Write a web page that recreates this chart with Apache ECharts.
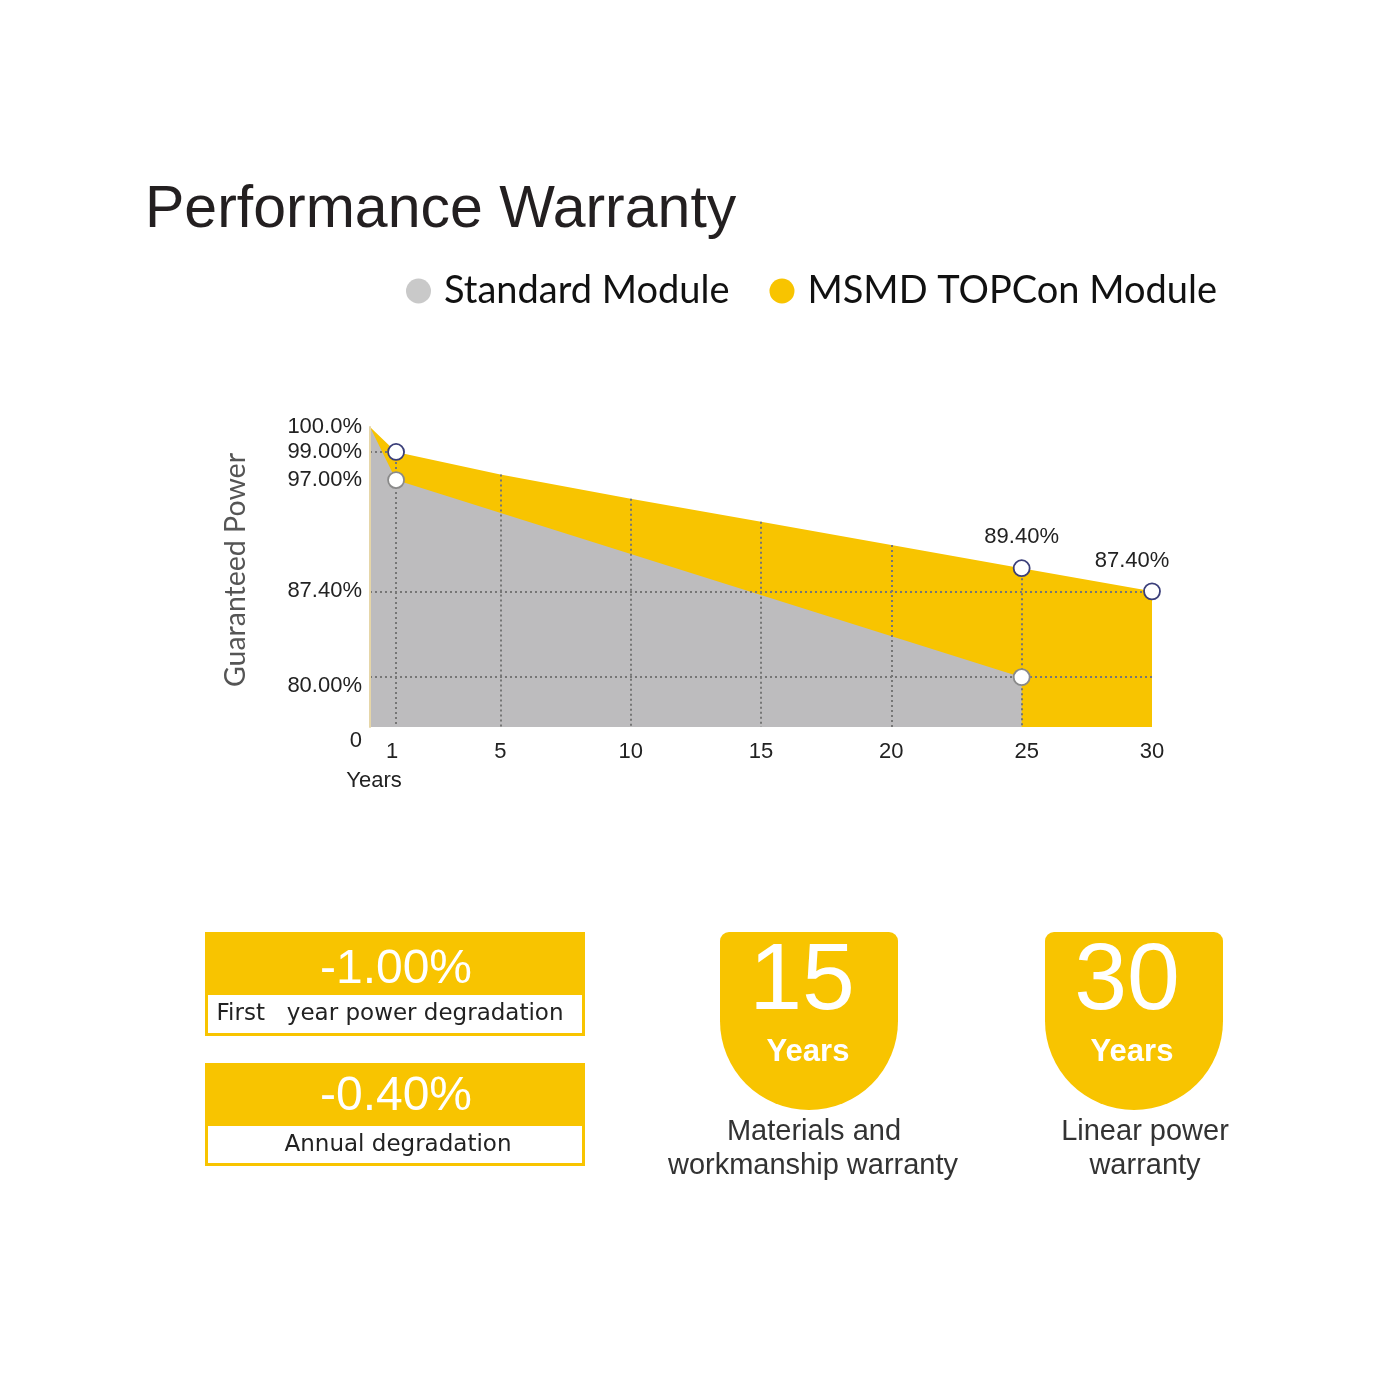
<!DOCTYPE html>
<html>
<head>
<meta charset="utf-8">
<script src="https://cdn.jsdelivr.net/npm/echarts@6/dist/echarts.min.js"></script>
<style>
  html, body { margin: 0; padding: 0; background: #ffffff; }
  #chart { width: 1400px; height: 1400px; }
</style>
</head>
<body>
<div id="chart"></div>
<script>
// ---------------- data ----------------
const years = [0, 1, 5, 10, 15, 20, 25, 30];
const msmdPower = [100, 99, 97.4, 95.4, 93.4, 91.4, 89.4, 87.4];
const standardYears = [0, 1, 25];
const standardPower = [100, 97, 80];
const xTickYears = [1, 5, 10, 15, 20, 25, 30];
const yTickValues = [100, 99, 97, 87.4, 80];
const yTickLabels = ['100.0%', '99.00%', '97.00%', '87.40%', '80.00%'];
const markedMsmdYears = [1, 25, 30];
const markedStandardYears = [1, 25];
const labelledMsmdYears = [25, 30];
const gridLineYears = [1, 5, 10, 15, 20, 25];
const referenceLevels = [87.4, 80];
const seriesNames = ['Standard Module', 'MSMD TOPCon Module'];

// ---------------- scale (the reference's y axis is broken below 80% and stretched above 97%) ----------------
const Y_FLOOR = 75.7;   // plot floor, labelled "0" (axis break)
function warpY(v) {
  if (v <= 97) return v;
  if (v <= 99) return 97 + (v - 97) * 1.215;
  return 99.43 + (v - 99) * 2.15;
}
const Y_TOP = warpY(100);

const YELLOW = '#F8C400';
const GREY_AREA = '#BDBCBE';
const DOT = { color: '#767676', width: 2, type: [2, 3] };

const msmdValueAt = yr => msmdPower[years.indexOf(yr)];
const stdValueAt = yr => standardPower[standardYears.indexOf(yr)];

const gridLines = [];
gridLineYears.forEach(yr => {
  gridLines.push([{ coord: [yr, warpY(msmdValueAt(yr))] }, { coord: [yr, Y_FLOOR] }]);
});
referenceLevels.forEach(v => {
  gridLines.push([{ coord: [0, warpY(v)] }, { coord: [30, warpY(v)] }]);
});
gridLines.push([{ coord: [0, warpY(99)] }, { coord: [1, warpY(99)] }]);

const yCustom = yTickValues.map(warpY).concat([Y_FLOOR]);

function yLabel(value) {
  if (Math.abs(value - Y_FLOOR) < 1e-6) return '{z|0}';
  for (let i = 0; i < yTickValues.length; i++) {
    if (Math.abs(warpY(yTickValues[i]) - value) < 1e-6) {
      return yTickValues[i] === 80 ? '{d|' + yTickLabels[i] + '}' : '{n|' + yTickLabels[i] + '}';
    }
  }
  return '';
}
function xLabel(value) {
  if (value === 1) return '{l|1}';
  if (value === 25) return '{r|25}';
  return '{n|' + value + '}';
}

const chart = echarts.init(document.getElementById('chart'), null, { renderer: 'canvas' });

const labelFont = { fontFamily: 'Liberation Sans, Arial, sans-serif', fontSize: 22, color: '#222222' };

function txt(x, y, text, font, fill) {
  return { type: 'text', x: x, y: y, style: { text: text, fill: fill, font: font, textAlign: 'center', textVerticalAlign: 'middle' } };
}
const ARIAL = '"Liberation Sans", Arial, sans-serif';

const option = {
  animation: false,
  backgroundColor: '#ffffff',
  title: {
    text: 'Performance Warranty',
    left: 145,
    top: 181,
    padding: 0,
    textStyle: { fontFamily: 'Liberation Sans, Arial, sans-serif', fontSize: 59, fontWeight: 'normal', color: '#231f20' }
  },
  legend: {
    left: 406,
    top: 272,
    padding: 0,
    itemWidth: 25,
    itemHeight: 25,
    itemGap: 40,
    selectedMode: false,
    textStyle: { fontFamily: 'Lato, sans-serif', fontSize: 38, color: '#111111', padding: [0, 0, 0, 8] },
    data: [
      { name: seriesNames[0], icon: 'circle', itemStyle: { color: '#C9C9C9' } },
      { name: seriesNames[1], icon: 'circle', itemStyle: { color: YELLOW } }
    ]
  },
  grid: {
    left: 370,
    top: 427,
    width: 782,
    height: 300,
    containLabel: false,
    outerBoundsMode: 'none'
  },
  xAxis: {
    type: 'value',
    min: 0,
    max: 30,
    name: 'Years',
    nameLocation: 'start',
    nameGap: -4,
    nameTextStyle: Object.assign({}, labelFont, { align: 'center', verticalAlign: 'top', padding: [43, 0, 0, 0] }),
    axisLine: { show: false },
    axisTick: { show: false },
    splitLine: { show: false },
    axisLabel: Object.assign({}, labelFont, {
      customValues: xTickYears,
      margin: 14,
      formatter: xLabel,
      rich: {
        n: Object.assign({}, labelFont),
        l: Object.assign({}, labelFont, { padding: [0, 8, 0, 0] }),
        r: Object.assign({}, labelFont, { padding: [0, 0, 0, 10] })
      }
    })
  },
  yAxis: {
    type: 'value',
    min: Y_FLOOR,
    max: Y_TOP,
    name: 'Guaranteed Power',
    nameLocation: 'middle',
    nameGap: 120,
    nameTextStyle: { fontFamily: 'Lato, sans-serif', fontSize: 28.5, color: '#555555', padding: [0, 0, 0, 14] },
    axisLine: { show: true, lineStyle: { color: '#E6D6A8', width: 2 } },
    axisTick: { show: false },
    splitLine: { show: false },
    z: 5,
    axisLabel: Object.assign({}, labelFont, {
      customValues: yCustom,
      margin: 8,
      formatter: yLabel,
      rich: {
        n: Object.assign({}, labelFont),
        d: Object.assign({}, labelFont, { padding: [18, 0, 0, 0] }),
        z: Object.assign({}, labelFont, { padding: [28, 0, 0, 0] })
      }
    })
  },
  series: [
    {
      name: seriesNames[1],
      type: 'line',
      z: 2,
      data: years.map((yr, i) => [yr, warpY(msmdPower[i])]),
      showSymbol: false,
      lineStyle: { width: 0 },
      itemStyle: { color: YELLOW },
      areaStyle: { color: YELLOW, opacity: 1 },
      silent: true
    },
    {
      name: seriesNames[0],
      type: 'line',
      z: 3,
      data: standardYears.map((yr, i) => [yr, warpY(standardPower[i])]),
      showSymbol: false,
      lineStyle: { width: 0 },
      itemStyle: { color: GREY_AREA },
      areaStyle: { color: GREY_AREA, opacity: 1 },
      silent: true,
      markLine: {
        silent: true,
        symbol: ['none', 'none'],
        label: { show: false },
        lineStyle: DOT,
        emphasis: { disabled: true },
        data: gridLines
      }
    },
    {
      name: 'standard points',
      type: 'scatter',
      z: 10,
      symbol: 'circle',
      symbolSize: 16,
      itemStyle: { color: '#ffffff', borderColor: '#8a8a8a', borderWidth: 1.8, opacity: 1 },
      data: markedStandardYears.map(yr => [yr, warpY(stdValueAt(yr))])
    },
    {
      name: 'msmd points',
      type: 'scatter',
      z: 11,
      symbol: 'circle',
      symbolSize: 16,
      itemStyle: { color: '#ffffff', borderColor: '#3b3f7a', borderWidth: 1.8, opacity: 1 },
      data: markedMsmdYears.map(yr => {
        const item = { value: [yr, warpY(msmdValueAt(yr))] };
        if (labelledMsmdYears.indexOf(yr) >= 0) {
          item.label = {
            show: true,
            position: 'top',
            distance: 11,
            offset: yr === 30 ? [-20, 0] : [0, 0],
            formatter: p => msmdValueAt(p.value[0]).toFixed(2) + '%',
            fontFamily: labelFont.fontFamily,
            fontSize: 22,
            color: '#222222'
          };
        }
        return item;
      })
    }
  ],
  graphic: [
    // box 1
    { type: 'rect', shape: { x: 205, y: 932, width: 380, height: 104 }, style: { fill: YELLOW } },
    { type: 'rect', shape: { x: 208, y: 995, width: 374, height: 38 }, style: { fill: '#ffffff' } },
    txt(396, 970, '-1.00%', '48px ' + ARIAL, '#ffffff'),
    txt(390, 1014, 'First   year power degradation', '23px "DejaVu Sans", sans-serif', '#222222'),
    // box 2
    { type: 'rect', shape: { x: 205, y: 1063, width: 380, height: 103 }, style: { fill: YELLOW } },
    { type: 'rect', shape: { x: 208, y: 1126, width: 374, height: 37 }, style: { fill: '#ffffff' } },
    txt(396, 1097, '-0.40%', '48px ' + ARIAL, '#ffffff'),
    txt(398, 1145, 'Annual degradation', '23px "DejaVu Sans", sans-serif', '#222222'),
    // shield 1
    { type: 'rect', shape: { x: 720, y: 932, width: 178, height: 90, r: [9, 9, 0, 0] }, style: { fill: YELLOW } },
    { type: 'circle', shape: { cx: 809, cy: 1021, r: 89 }, style: { fill: YELLOW } },
    txt(802, 983, '15', '95px ' + ARIAL, '#ffffff'),
    txt(808, 1052, 'Years', 'bold 31px ' + ARIAL, '#ffffff'),
    txt(814, 1132, 'Materials and', '29px ' + ARIAL, '#333333'),
    txt(813, 1166, 'workmanship warranty', '29px ' + ARIAL, '#333333'),
    // shield 2
    { type: 'rect', shape: { x: 1045, y: 932, width: 178, height: 90, r: [9, 9, 0, 0] }, style: { fill: YELLOW } },
    { type: 'circle', shape: { cx: 1134, cy: 1021, r: 89 }, style: { fill: YELLOW } },
    txt(1127, 983, '30', '95px ' + ARIAL, '#ffffff'),
    txt(1132, 1052, 'Years', 'bold 31px ' + ARIAL, '#ffffff'),
    txt(1145, 1132, 'Linear power', '29px ' + ARIAL, '#333333'),
    txt(1145, 1166, 'warranty', '29px ' + ARIAL, '#333333')
  ]
};

chart.setOption(option);
</script>
</body>
</html>
